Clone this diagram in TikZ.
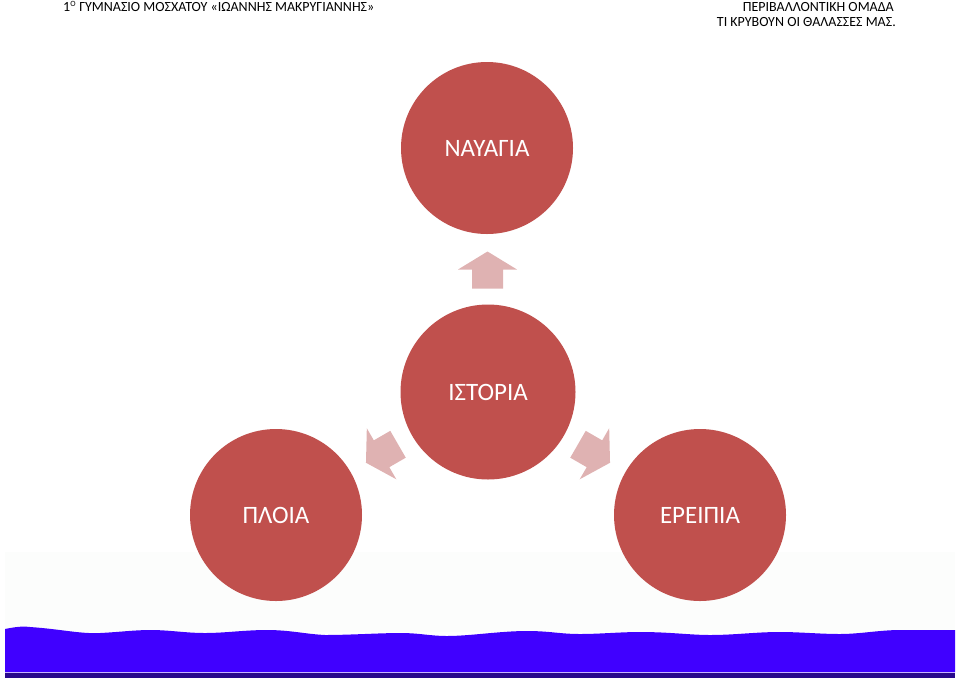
\documentclass[tikz,border=0pt]{standalone}
\usepackage{fontspec}
\setmainfont{Carlito}
\usetikzlibrary{calc}
\definecolor{circ}{RGB}{192,80,77}
\definecolor{arr}{RGB}{223,178,178}
\definecolor{sea}{RGB}{64,0,255}
\definecolor{seadark}{RGB}{40,8,140}
\definecolor{haze}{RGB}{252,253,252}
\begin{document}
\begin{tikzpicture}[x=1pt,y=-1pt,
  bubble/.style={circle,fill=circ,minimum size=172pt,inner sep=0pt,text=white,font=\fontsize{25}{29}\selectfont},
  hdr/.style={inner sep=0pt,font=\fontsize{14}{16}\selectfont}]
\useasboundingbox (0,0) rectangle (960,681);
% haze band
\fill[haze] (5,552) rectangle (955,632);
% sea
\fill[sea] (5,629) .. controls (15,627) and (22,626) .. (30,627)
  .. controls (60,629) and (80,634) .. (100,633)
  .. controls (120,632) and (135,630) .. (150,630)
  .. controls (170,630) and (185,633) .. (205,633)
  .. controls (225,633) and (245,630) .. (267,630)
  .. controls (290,630) and (305,634) .. (325,635)
  .. controls (350,635) and (380,633) .. (400,633)
  .. controls (420,633) and (430,636) .. (447,636)
  .. controls (470,636) and (500,631) .. (527,631)
  .. controls (550,631) and (560,634) .. (580,634)
  .. controls (600,634) and (620,632) .. (640,632)
  .. controls (670,632) and (690,635) .. (710,635)
  .. controls (735,635) and (755,632) .. (780,632)
  .. controls (800,632) and (820,634) .. (840,634)
  .. controls (860,634) and (880,630) .. (900,630)
  -- (955,630) -- (955,672) -- (5,672) -- cycle;
\fill[seadark] (5,672) rectangle (955,678);
\draw[white!70!sea,line width=0.6pt] (5,672) -- (955,672);
% header
\node[hdr,anchor=base west] (h1) at (63,11.5) {1\textsuperscript{\fontsize{8}{9}\selectfont O} ΓΥΜΝΑΣΙΟ ΜΟΣΧΑΤΟΥ «ΙΩΑΝΝΗΣ ΜΑΚΡΥΓΙΑΝΝΗΣ»};
\node[hdr,anchor=base east] (h2) at (894,11.5) {ΠΕΡΙΒΑΛΛΟΝΤΙΚΗ ΟΜΑΔΑ};
\node[hdr,anchor=base east] (h3) at (896,26) {ΤΙ ΚΡΥΒΟΥΝ ΟΙ ΘΑΛΑΣΣΕΣ ΜΑΣ.};
% circles
\node[bubble] (nav) at (487,148) {ΝΑΥΑΓΙΑ};
\node[bubble,minimum size=175pt] (ist) at (488,392) {ΙΣΤΟΡΙΑ};
\node[bubble] (plo) at (276,515) {ΠΛΟΙΑ};
\node[bubble] (ere) at (700,515) {ΕΡΕΙΠΙΑ};
% arrows
\coordinate (a1) at ($(ist)!0.5!(nav)$);
\coordinate (a2) at ($(ist)!0.5!(plo)$);
\coordinate (a3) at ($(ist)!0.5!(ere)$);
\foreach \c/\r in {a1/0,a2/120,a3/-120}{
  \fill[arr,shift={(\c)},rotate=\r] (0,-18.5) -- (29.5,-0.5) -- (15.5,-0.5) -- (15.5,18.5) -- (-15.5,18.5) -- (-15.5,-0.5) -- (-29.5,-0.5) -- cycle;
}
\end{tikzpicture}
\end{document}
